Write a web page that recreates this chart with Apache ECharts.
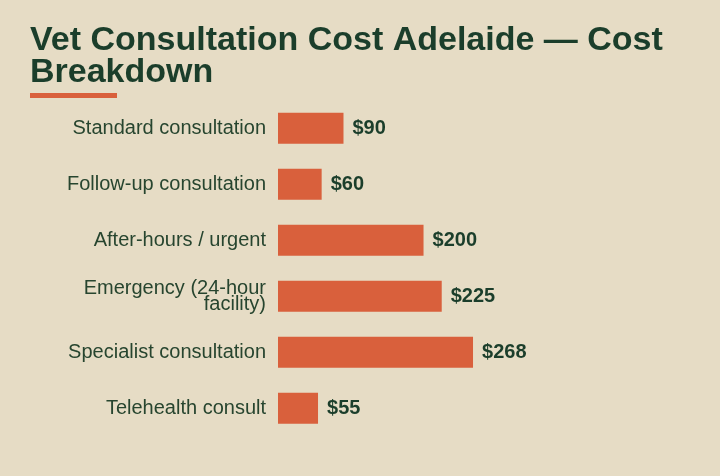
<!DOCTYPE html>
<html>
<head>
<meta charset="utf-8">
<script src="https://cdn.jsdelivr.net/npm/echarts@6/dist/echarts.min.js"></script>
<style>
  html, body { margin: 0; padding: 0; background: #e6dcc5; }
  #main { width: 720px; height: 476px; }
</style>
</head>
<body>
<div id="main"></div>
<script>
// data
var categories = [
    'Standard consultation',
    'Follow-up consultation',
    'After-hours / urgent',
    'Emergency (24-hour facility)',
    'Specialist consultation',
    'Telehealth consult'
];
var costs = [90, 60, 200, 225, 268, 55];

var FONT = "'Liberation Sans', Arial, sans-serif";

// simple word wrap for long category names
function wrap(text, maxChars) {
    var words = text.split(' ');
    var lines = [];
    var cur = '';
    words.forEach(function (w) {
        if (cur && (cur + ' ' + w).length > maxChars) {
            lines.push(cur);
            cur = w;
        } else {
            cur = cur ? cur + ' ' + w : w;
        }
    });
    if (cur) lines.push(cur);
    return lines.join('\n');
}

var myChart = echarts.init(document.getElementById('main'));

var option = {
    backgroundColor: '#e6dcc5',
    textStyle: { fontFamily: FONT },
    title: {
        text: 'Vet Consultation Cost Adelaide \u2014 Cost\nBreakdown',
        left: 30,
        top: 25,
        padding: 0,
        textStyle: {
            color: '#1b3e2b',
            fontSize: 34,
            fontWeight: 'bold',
            lineHeight: 32,
            fontFamily: FONT
        }
    },
    graphic: [
        {
            type: 'rect',
            left: 30,
            top: 93,
            shape: { width: 87, height: 5 },
            style: { fill: '#d9603c' }
        }
    ],
    grid: {
        left: 278,
        right: 223.7,
        top: 100.3,
        bottom: 39.7,
        containLabel: false
    },
    xAxis: {
        type: 'value',
        min: 0,
        max: 300,
        show: false
    },
    yAxis: {
        type: 'category',
        data: categories,
        inverse: true,
        axisLine: { show: false },
        axisTick: { show: false },
        splitLine: { show: false },
        axisLabel: {
            color: '#27452f',
            fontSize: 20,
            fontFamily: FONT,
            margin: 12,
            lineHeight: 16,
            align: 'right',
            formatter: function (v) { return wrap(v, 24); }
        }
    },
    series: [
        {
            type: 'bar',
            data: costs,
            barWidth: 31,
            itemStyle: { color: '#d9603c' },
            label: {
                show: true,
                position: 'right',
                distance: 9,
                color: '#1b3e2b',
                fontSize: 20,
                fontWeight: 'bold',
                fontFamily: FONT,
                formatter: function (p) { return '$' + p.value; }
            },
            animation: false
        }
    ]
};
myChart.setOption(option);
</script>
</body>
</html>
